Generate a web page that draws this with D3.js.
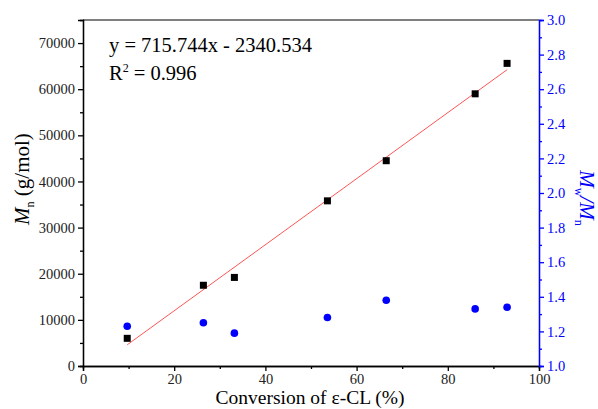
<!DOCTYPE html>
<html>
<head>
<meta charset="utf-8">
<script src="https://cdn.jsdelivr.net/npm/d3@7"></script>
<style>
body{margin:0;background:#fff;}
</style>
</head>
<body>
<div id="chart"></div>
<script>
// conversion of e-CL (%)
var conversion = [9.7, 26.4, 33.2, 53.6, 66.5, 86.0, 93.0];
// Mn (g/mol)
var mnValues = [6000, 17500, 19200, 35800, 44500, 59000, 65600];
// Mw/Mn
var pdiValues = [1.23, 1.25, 1.19, 1.28, 1.38, 1.33, 1.34];
var slope = 715.744, intercept = -2340.534;

var serif = "'Liberation Serif', 'Times New Roman', serif";
var width = 598, height = 409;
var margin = {top: 20, right: 59, bottom: 43, left: 83};

var svg = d3.select("#chart").append("svg")
	.attr("width", width)
	.attr("height", height)
	.style("font-family", serif);

var x = d3.scaleLinear().domain([0, 100]).range([margin.left, width - margin.right]);
var yL = d3.scaleLinear().domain([0, 75000]).range([height - margin.bottom, margin.top]);
var yR = d3.scaleLinear().domain([1, 3]).range([height - margin.bottom, margin.top]);

var blue = "#0000ff";

// frame top
svg.append("line")
	.attr("x1", x(0)).attr("x2", x(100))
	.attr("y1", yL(75000)).attr("y2", yL(75000))
	.style("stroke", "#000").style("stroke-width", 1);

function styleAxis(g, col) {
	g.attr("font-family", null).attr("font-size", null);
	g.selectAll("path,line").style("stroke", col).style("stroke-width", 1.3);
	g.selectAll("text")
		.style("font-family", serif)
		.style("font-size", "14.5px")
		.style("fill", col === blue ? blue : "#222");
}

var bx = "translate(0," + (height - margin.bottom) + ")";
var lx = "translate(" + margin.left + ",0)";
var rx = "translate(" + (width - margin.right) + ",0)";

// minor ticks
svg.append("g").attr("transform", bx)
	.call(d3.axisBottom(x).tickValues(d3.range(10, 100, 20)).tickSize(3).tickFormat(""))
	.call(styleAxis, "#000");
svg.append("g").attr("transform", lx)
	.call(d3.axisLeft(yL).tickValues(d3.range(5000, 75000, 10000)).tickSize(3).tickFormat(""))
	.call(styleAxis, "#000");
svg.append("g").attr("transform", rx)
	.call(d3.axisRight(yR).tickValues(d3.range(1.1, 3, 0.2)).tickSize(3).tickFormat(""))
	.call(styleAxis, blue);

// major ticks
svg.append("g").attr("transform", bx)
	.call(d3.axisBottom(x).tickValues(d3.range(0, 101, 20)).tickSize(5).tickPadding(3))
	.call(styleAxis, "#000");
svg.append("g").attr("transform", lx)
	.call(d3.axisLeft(yL).tickValues(d3.range(0, 70001, 10000)).tickSize(5).tickPadding(3).tickFormat(d3.format("d")))
	.call(styleAxis, "#000");
svg.append("g").attr("transform", rx)
	.call(d3.axisRight(yR).tickValues(d3.range(1, 3.01, 0.2)).tickSize(5).tickPadding(3).tickFormat(d3.format(".1f")))
	.call(styleAxis, blue);

// fit line
var x0 = d3.min(conversion), x1 = d3.max(conversion);
svg.append("line")
	.attr("x1", x(x0)).attr("y1", yL(slope * x0 + intercept))
	.attr("x2", x(x1)).attr("y2", yL(slope * x1 + intercept))
	.style("stroke", "#ff5555").style("stroke-width", 1);

// Mn squares
svg.selectAll(".sq").data(conversion).enter().append("rect")
	.attr("x", function(d) { return x(d) - 3.5; })
	.attr("y", function(d, i) { return yL(mnValues[i]) - 3.5; })
	.attr("width", 7).attr("height", 7)
	.style("fill", "#000");

// PDI circles
svg.selectAll(".dot").data(conversion).enter().append("circle")
	.attr("cx", function(d) { return x(d); })
	.attr("cy", function(d, i) { return yR(pdiValues[i]); })
	.attr("r", 3.8)
	.style("fill", blue);

// equation
var eq = svg.append("g").style("font-size", "20.5px");
eq.append("text").attr("x", 109).attr("y", 52).text("y = 715.744x - 2340.534");
var r2 = eq.append("text").attr("x", 109).attr("y", 80);
r2.append("tspan").text("R");
r2.append("tspan").attr("dy", -8).style("font-size", "12px").text("2");
r2.append("tspan").attr("dy", 8).text(" = 0.996");

// x title
svg.append("text")
	.attr("x", 310).attr("y", 404)
	.style("text-anchor", "middle").style("font-size", "19.5px")
	.text("Conversion of ε-CL (%)");

// left title
var lt = svg.append("text")
	.attr("transform", "translate(29,179) rotate(-90)")
	.style("text-anchor", "middle").style("font-size", "21px");
lt.append("tspan").style("font-style", "italic").text("M");
lt.append("tspan").attr("dy", 5).style("font-size", "12px").text("n");
lt.append("tspan").attr("dy", -5).text(" (g/mol)");

// right title
var rt = svg.append("text")
	.attr("transform", "translate(580,198) rotate(90)")
	.style("text-anchor", "middle").style("font-size", "21px").style("fill", blue);
rt.append("tspan").style("font-style", "italic").text("M");
rt.append("tspan").attr("dy", 5).style("font-size", "12px").text("w");
rt.append("tspan").attr("dy", -5).style("font-style", "italic").text("/M");
rt.append("tspan").attr("dy", 5).style("font-size", "12px").text("n");
</script>
</body>
</html>
